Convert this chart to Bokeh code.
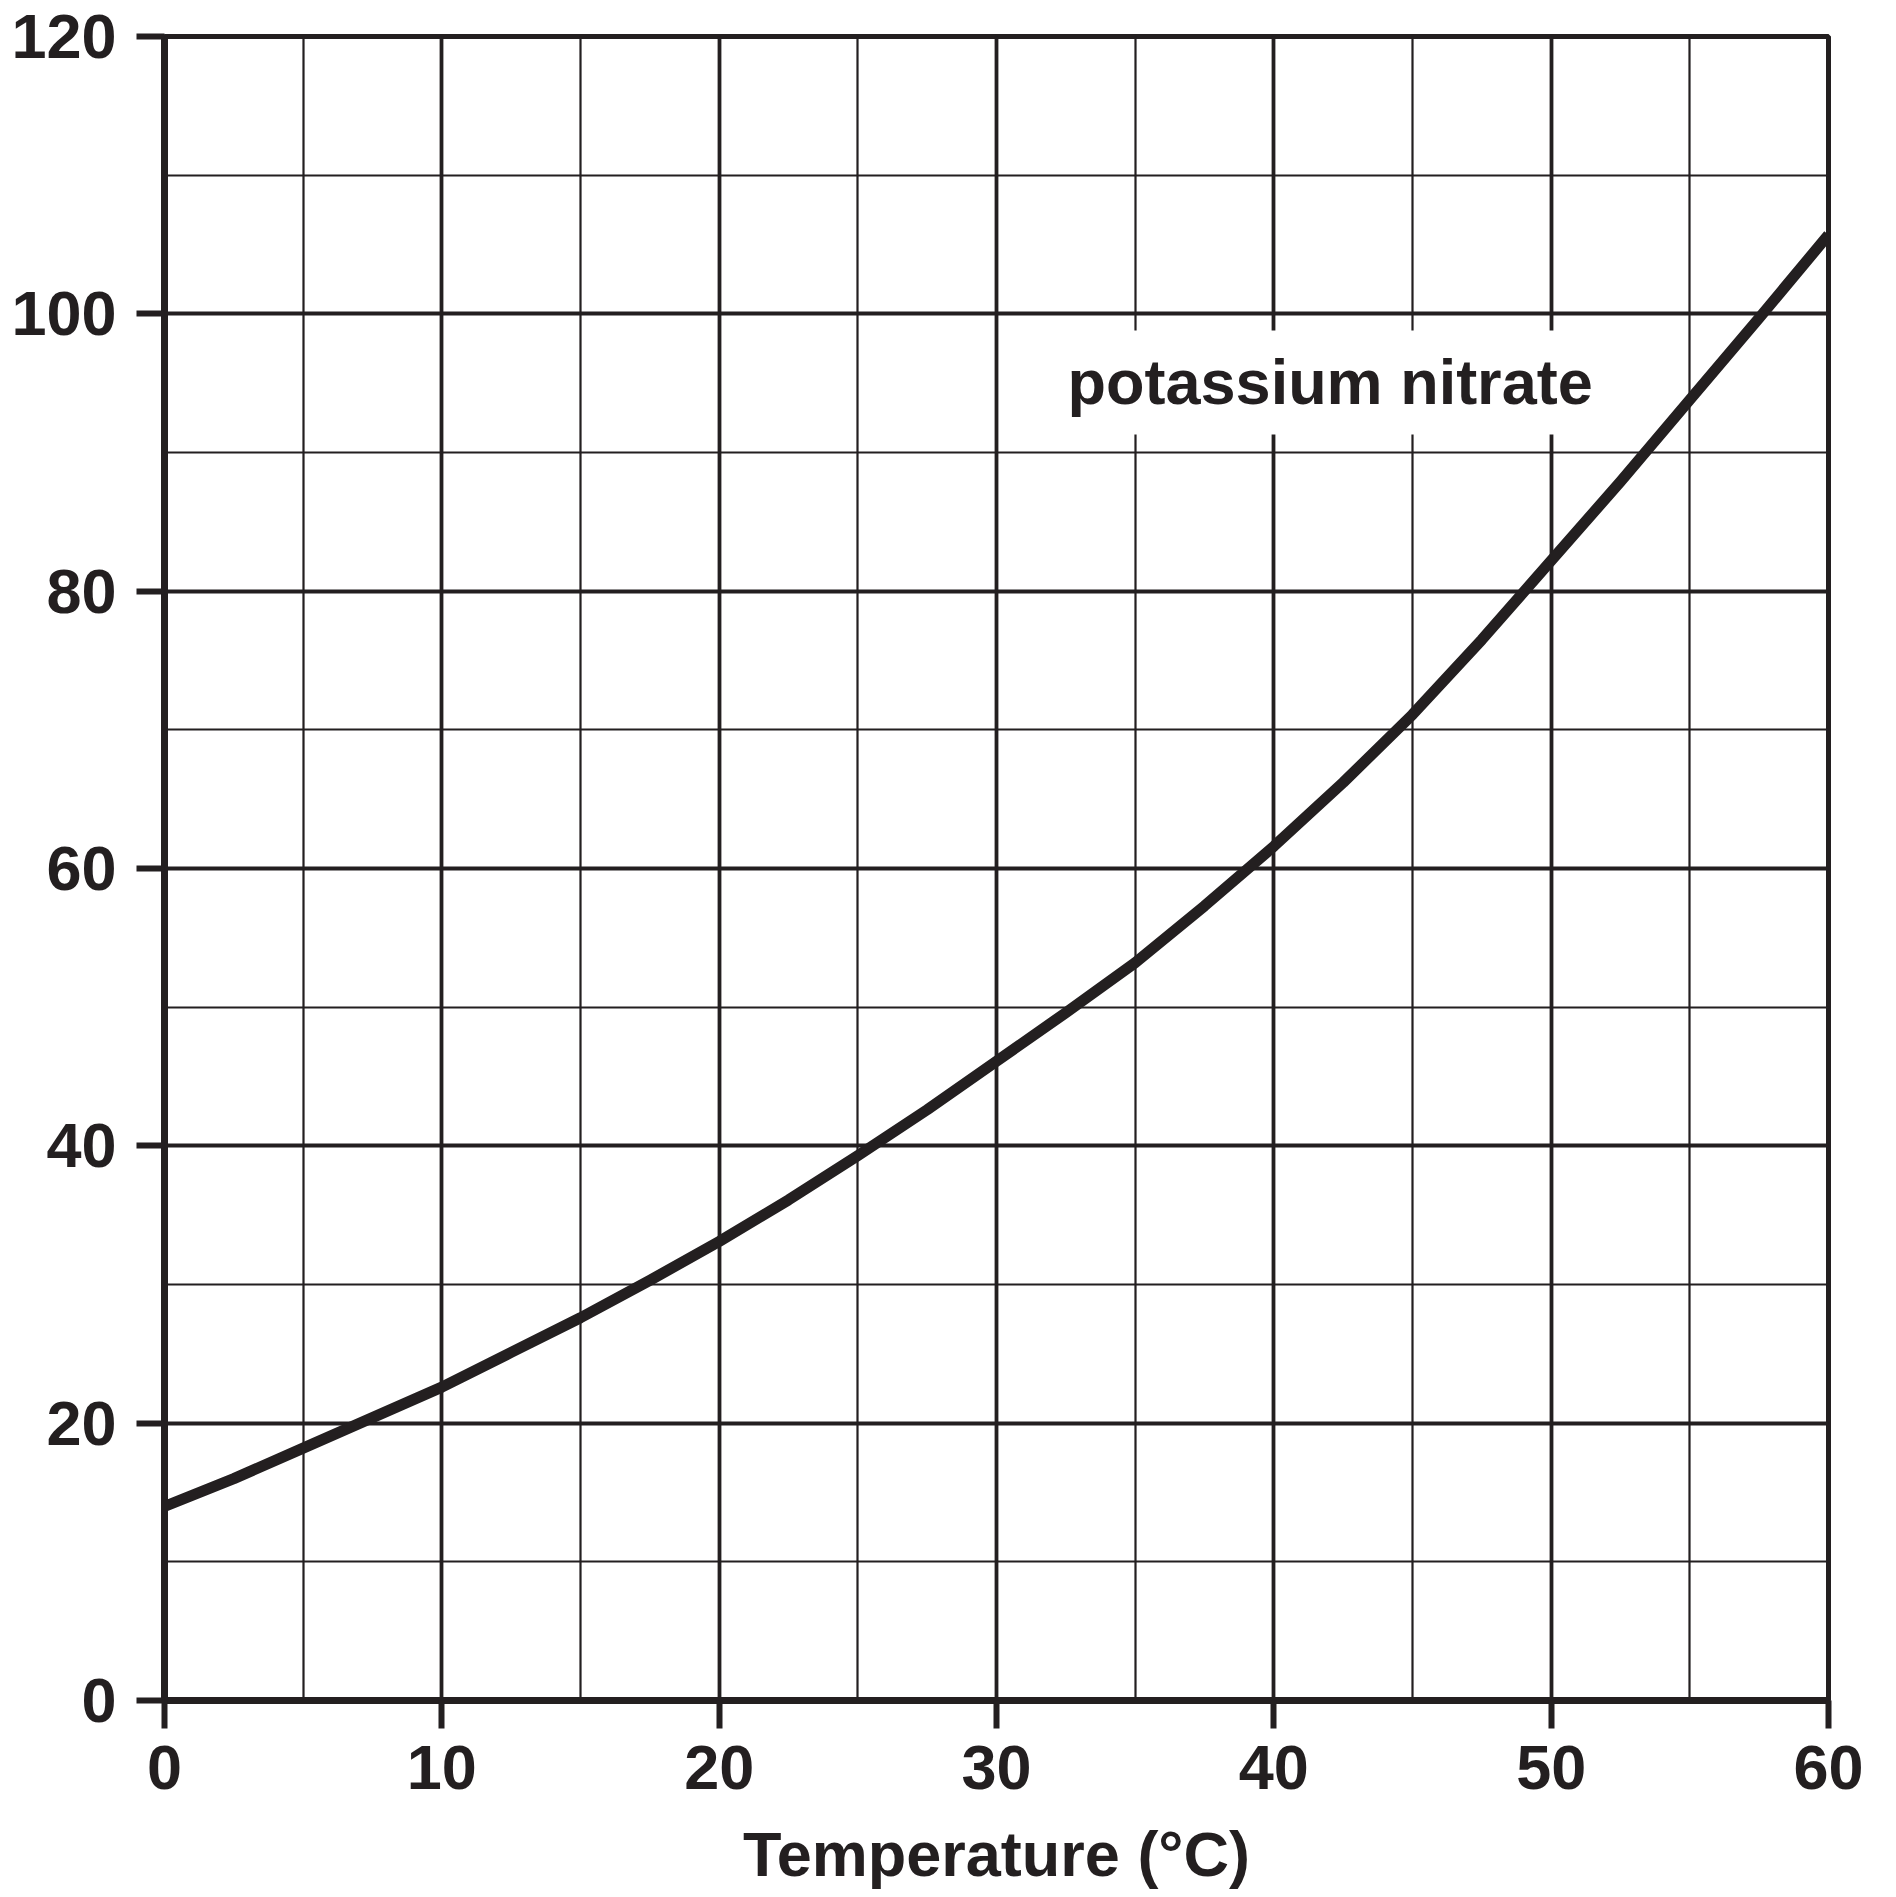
from bokeh.plotting import figure
from bokeh.models import Range1d, SingleIntervalTicker, Label
from bokeh.embed import file_html
from bokeh.resources import INLINE

# ---- data ----
temperature = [0, 2.5, 5, 7.5, 10, 12.5, 15, 17.5, 20, 22.5, 25, 27.5, 30,
               32.5, 35, 37.5, 40, 42.5, 45, 47.5, 50, 52.5, 55, 57.5, 60]
solubility = [14.0, 16.0, 18.2, 20.4, 22.6, 25.1, 27.6, 30.3, 33.1, 36.1, 39.3, 42.6, 46.1,
              49.6, 53.2, 57.3, 61.6, 66.2, 71.1, 76.5, 82.2, 87.9, 93.8, 99.7, 105.7]
x_range_limits = [0, 60]
y_range_limits = [0, 120]
x_major_step = 10
y_major_step = 20
series_label = "potassium nitrate"
series_label_pos = [31.95, 91.3]
x_title = "Temperature (°C)"

INK = "#231f20"
FONT = "Liberation Sans"
FS = "63px"

p = figure(
    frame_width=1664, frame_height=1664,
    min_border_left=164, min_border_right=60, min_border_top=36, min_border_bottom=195,
    x_range=Range1d(*x_range_limits), y_range=Range1d(*y_range_limits),
    output_backend="svg", toolbar_location=None,
    background_fill_color="white", border_fill_color="white",
)

xt = SingleIntervalTicker(interval=x_major_step, num_minor_ticks=2)
yt = SingleIntervalTicker(interval=y_major_step, num_minor_ticks=2)
p.xaxis.ticker = xt
p.yaxis.ticker = yt
p.xgrid.ticker = xt
p.ygrid.ticker = yt

for g in (p.xgrid, p.ygrid):
    g.grid_line_color = INK
    g.grid_line_width = 3.8
    g.grid_line_alpha = 1.0
    g.minor_grid_line_color = INK
    g.minor_grid_line_width = 2.2
    g.minor_grid_line_alpha = 1.0

for ax in (p.xaxis, p.yaxis):
    ax.axis_line_color = INK
    ax.axis_line_width = 7
    ax.major_tick_line_color = INK
    ax.major_tick_line_width = 6
    ax.major_tick_out = 28
    ax.major_tick_in = 0
    ax.minor_tick_out = 0
    ax.minor_tick_in = 0
    ax.major_label_text_font = FONT
    ax.major_label_text_font_style = "bold"
    ax.major_label_text_font_size = FS
    ax.major_label_text_color = INK

p.xaxis.major_label_standoff = 17
p.yaxis.major_label_standoff = 20
p.xaxis.axis_label = x_title
p.xaxis.axis_label_text_font = FONT
p.xaxis.axis_label_text_font_style = "bold"
p.xaxis.axis_label_text_font_size = FS
p.xaxis.axis_label_text_color = INK
p.xaxis.axis_label_standoff = 27

p.outline_line_color = INK
p.outline_line_width = 5
p.outline_line_alpha = 1.0

p.line(temperature, solubility, line_color=INK, line_width=11, line_cap="butt", line_join="round")

lab = Label(
    x=series_label_pos[0], y=series_label_pos[1], text=series_label,
    text_font=FONT, text_font_style="bold", text_font_size=FS, text_color=INK,
    text_baseline="bottom", text_align="left",
    background_fill_color="white", background_fill_alpha=1.0, padding=17,
)
p.add_layout(lab)

open("out.html", "w").write(file_html(p, INLINE))
